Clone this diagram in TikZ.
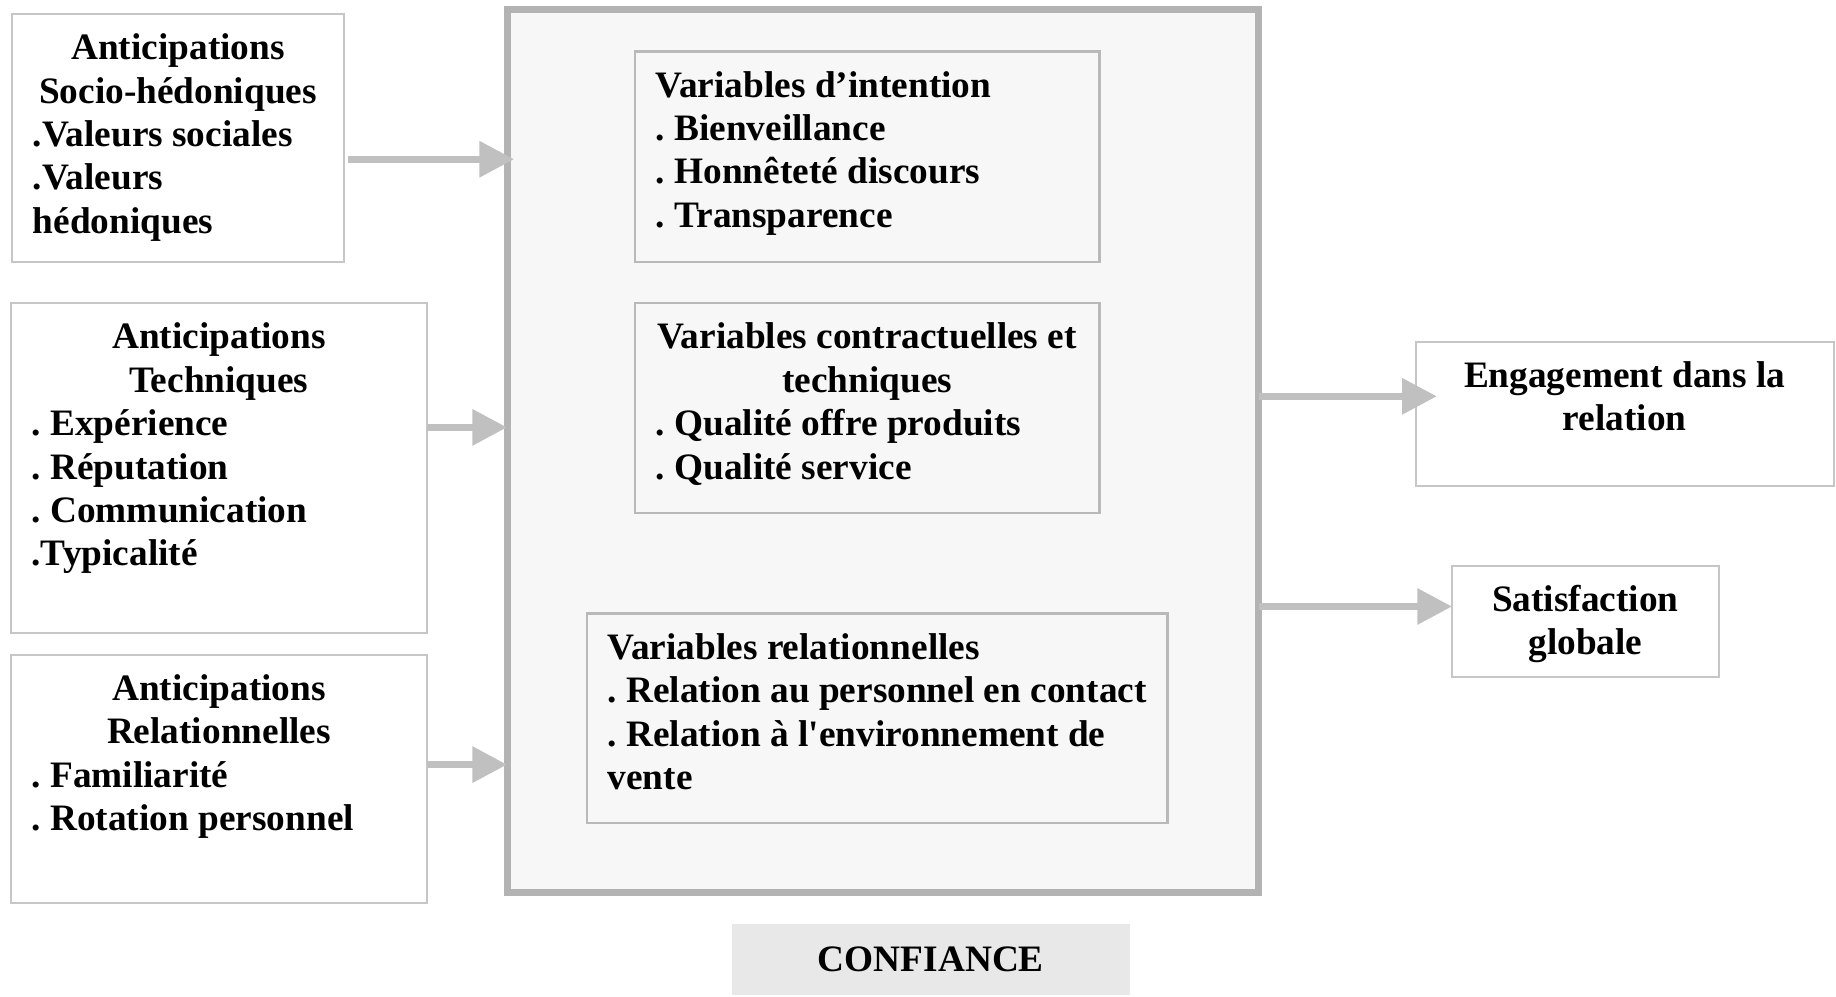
\documentclass[tikz,border=0pt]{standalone}
\usepackage{fontspec}
\setmainfont{Liberation Serif}
\usepackage{xcolor}
\usepackage{tikz}
\usetikzlibrary{positioning,arrows.meta,calc}

\definecolor{boxline}{HTML}{C6C6C6}
\definecolor{varline}{HTML}{B9B9B9}
\definecolor{frameline}{HTML}{B3B3B3}
\definecolor{framefill}{HTML}{F7F7F7}
\definecolor{arrowgray}{HTML}{C0C0C0}
\definecolor{conffill}{HTML}{E8E8E8}

\newcommand{\boxtext}[3]{\parbox[t][#2][t]{#1}{\frenchspacing\strut#3}}
\newcommand{\centred}{\hspace*{0pt plus 1fil}}

\begin{document}
\begin{tikzpicture}[
        x=0.375pt, y=-0.375pt,
        font=\fontsize{11.95}{13.9}\selectfont\bfseries,
        sidebox/.style={draw=boxline, line width=0.65pt, fill=white, anchor=north west, inner xsep=6.75pt, inner ysep=4.9pt, outer sep=0pt},
        varbox/.style={draw=varline, line width=0.7pt, fill=framefill, anchor=north west, inner xsep=6.75pt, inner ysep=4.9pt, outer sep=0pt},
        trustframe/.style={draw=frameline, line width=2.25pt, fill=framefill, anchor=north west, inner sep=0pt, outer sep=0pt, minimum width=240.75pt, minimum height=282.56pt},
        confbox/.style={fill=conffill, anchor=north west, inner sep=0pt, outer sep=0pt, minimum width=127.5pt, minimum height=22.9pt},
        arrow/.style={-{Triangle[length=11.1pt,width=11.2pt]}, line width=2.1pt, draw=arrowgray}
    ]
    \useasboundingbox (0,0) rectangle (1568,851);

    % anticipations
    \node[sidebox] (socio) at (10,12) {\boxtext{93pt}{69.7pt}{\centred Anticipations\\ \centred Socio-hédoniques\\ .Valeurs sociales\\ .Valeurs\\ hédoniques}};
    \node[sidebox] (tech) at (9,259) {\boxtext{120pt}{95.95pt}{\centred Anticipations\\ \centred Techniques\\ . Expérience\\ . Réputation\\ . Communication\\ .Typicalité}};
    \node[sidebox] (relant) at (9,559) {\boxtext{120pt}{69.7pt}{\centred Anticipations\\ \centred Relationnelles\\ . Familiarité\\ \mbox{. Rotation personnel}}};

    % cadre confiance
    \node[trustframe] (trust) at (433,8.5) {};
    \node[varbox] (intent) at (542,44) {\boxtext{135.4pt}{57.7pt}{Variables d’intention\\ . Bienveillance\\ . Honnêteté discours\\ . Transparence}};
    \node[varbox] (contract) at (542,259) {\boxtext{135.4pt}{57.3pt}{\centred\mbox{Variables contractuelles et}\\ \centred techniques\\ . Qualité offre produits\\ . Qualité service}};
    \node[varbox] (relvar) at (501,524) {\boxtext{172.5pt}{57.3pt}{Variables relationnelles\\ \mbox{. Relation au personnel en contact}\\ \mbox{. Relation à l\textquotesingle environnement de}\\ vente}};
    \node[confbox] (conf) at (625,789) {CONFIANCE};

    % sorties
    \node[sidebox] (engage) at (1209,292) {\boxtext{120.4pt}{36.3pt}{\centred\mbox{Engagement dans la}\\ \centred relation}};
    \node[sidebox] (satisf) at (1240,483) {\boxtext{72pt}{25.8pt}{\centred Satisfaction\\ \centred globale}};

    % fleches
    \draw[arrow] ($(socio.east)+(3,18)$) -- ($(socio.east -| trust.west)+(6,18)$);
    \draw[arrow] ($(tech.east)+(0,-35)$) -- ($(tech.east -| trust.west)+(0,-35)$);
    \draw[arrow] ($(relant.east)+(0,-12)$) -- ($(relant.east -| trust.west)+(0,-12)$);
    \draw[arrow] ($(trust.east |- engage.west)+(0,-15)$) -- ($(engage.west)+(18,-15)$);
    \draw[arrow] ($(trust.east |- satisf.west)+(0,-12.5)$) -- ($(satisf.west)+(0,-12.5)$);

\end{tikzpicture}
\end{document}
